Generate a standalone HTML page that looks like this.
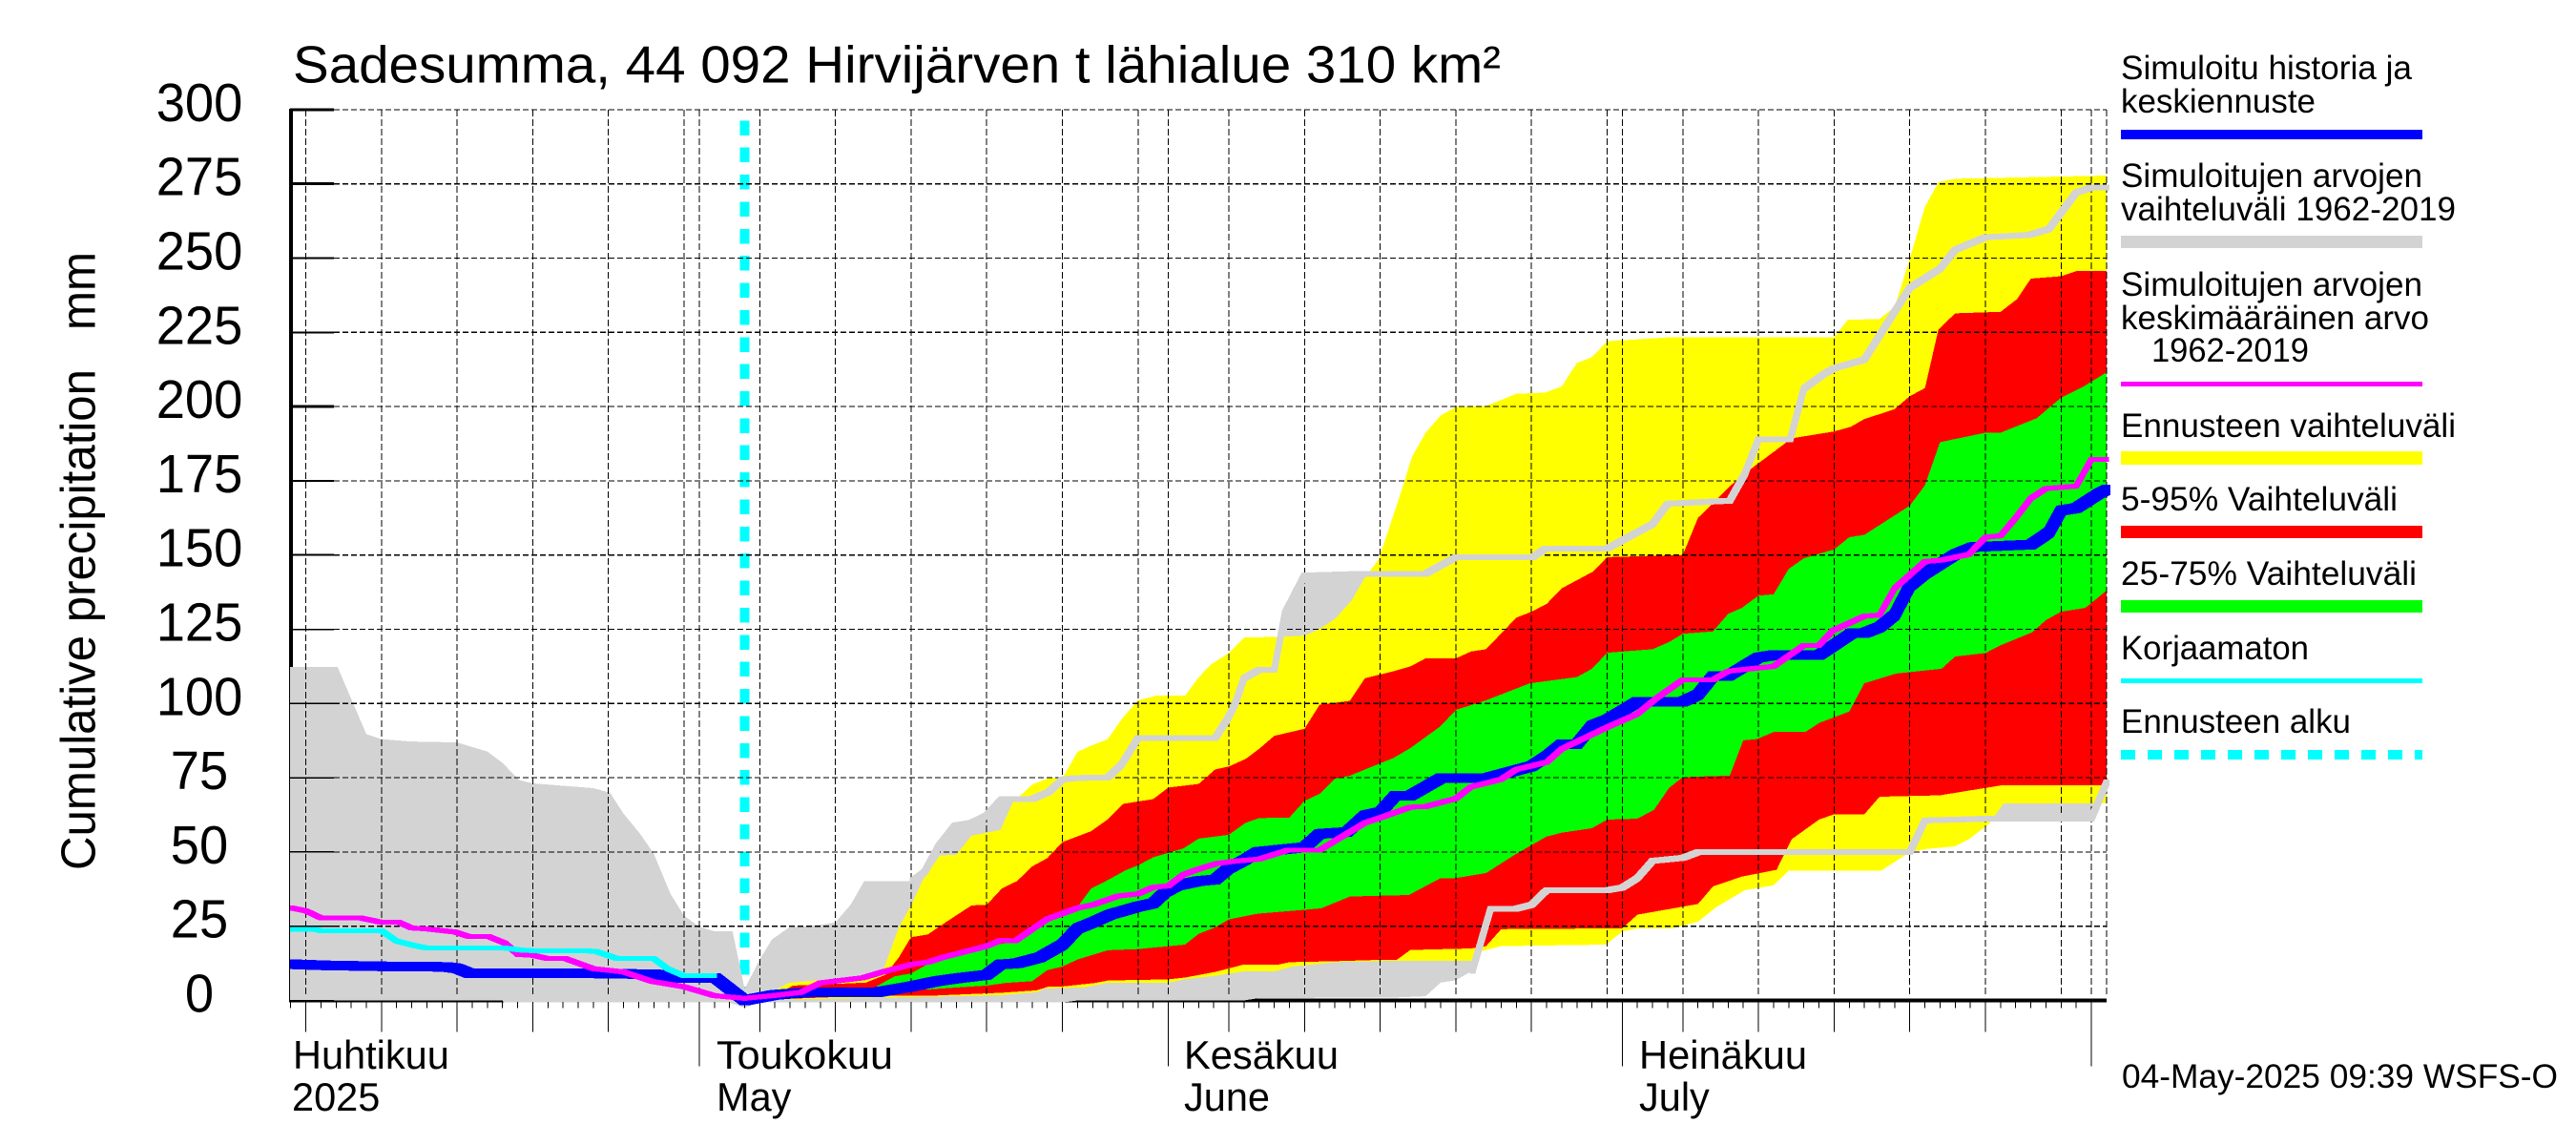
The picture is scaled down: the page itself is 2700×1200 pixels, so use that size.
<!DOCTYPE html>
<html lang="fi">
<head>
<meta charset="utf-8">
<title>Sadesumma, 44 092 Hirvijärven t lähialue 310 km²</title>
<style>
html,body{margin:0;padding:0;background:#fff;}
svg{display:block;font-family:"Liberation Sans",sans-serif;fill:#000;}
</style>
</head>
<body>
<svg id="chart" xmlns="http://www.w3.org/2000/svg" width="2700" height="1200" viewBox="0 0 2700 1200">
  <defs>
    <clipPath id="plot-clip"><rect x="304" y="100" width="1908" height="970"/></clipPath>
  </defs>
  <rect x="0" y="0" width="2700" height="1200" fill="#ffffff"/>
  <g id="plot" shape-rendering="crispEdges"></g>

  <text x="307" y="86.5" font-size="55" textLength="1266" lengthAdjust="spacingAndGlyphs">Sadesumma, 44 092 Hirvijärven t lähialue 310 km²</text>
  <text transform="translate(99.5,912) rotate(-90)" font-size="51" textLength="648" lengthAdjust="spacingAndGlyphs" style="white-space:pre">Cumulative precipitation   mm</text>
  <g id="ylabels"></g>

  <g font-size="41.5">
    <text x="307" y="1120">Huhtikuu</text>
    <text x="306" y="1164">2025</text>
    <text x="751" y="1120" textLength="185" lengthAdjust="spacingAndGlyphs">Toukokuu</text>
    <text x="751" y="1164">May</text>
    <text x="1241" y="1120" textLength="162" lengthAdjust="spacingAndGlyphs">Kesäkuu</text>
    <text x="1241" y="1164">June</text>
    <text x="1718" y="1120" textLength="176" lengthAdjust="spacingAndGlyphs">Heinäkuu</text>
    <text x="1718" y="1164">July</text>
  </g>

  <g font-size="35">
    <g>
      <text x="2223" y="83" textLength="305" lengthAdjust="spacingAndGlyphs">Simuloitu historia ja</text>
      <text x="2223" y="118" textLength="204" lengthAdjust="spacingAndGlyphs">keskiennuste</text>
      <rect x="2223" y="136" width="316" height="10" fill="#0000ff" shape-rendering="crispEdges"/>
    </g>
    <g>
      <text x="2223" y="196" textLength="316" lengthAdjust="spacingAndGlyphs">Simuloitujen arvojen</text>
      <text x="2223" y="231" textLength="351" lengthAdjust="spacingAndGlyphs">vaihteluväli 1962-2019</text>
      <rect x="2223" y="247" width="316" height="13" fill="#d3d3d3" shape-rendering="crispEdges"/>
    </g>
    <g>
      <text x="2223" y="310" textLength="316" lengthAdjust="spacingAndGlyphs">Simuloitujen arvojen</text>
      <text x="2223" y="345" textLength="323" lengthAdjust="spacingAndGlyphs">keskimääräinen arvo</text>
      <text x="2255" y="379" textLength="165" lengthAdjust="spacingAndGlyphs">1962-2019</text>
      <rect x="2223" y="400" width="316" height="5" fill="#ff00ff" shape-rendering="crispEdges"/>
    </g>
    <g>
      <text x="2223" y="458" textLength="351" lengthAdjust="spacingAndGlyphs">Ennusteen vaihteluväli</text>
      <rect x="2223" y="473" width="316" height="14" fill="#ffff00" shape-rendering="crispEdges"/>
    </g>
    <g>
      <text x="2223" y="535" textLength="290" lengthAdjust="spacingAndGlyphs">5-95% Vaihteluväli</text>
      <rect x="2223" y="551" width="316" height="13" fill="#ff0000" shape-rendering="crispEdges"/>
    </g>
    <g>
      <text x="2223" y="613" textLength="310" lengthAdjust="spacingAndGlyphs">25-75% Vaihteluväli</text>
      <rect x="2223" y="629" width="316" height="13" fill="#00ff00" shape-rendering="crispEdges"/>
    </g>
    <g>
      <text x="2223" y="691" textLength="197" lengthAdjust="spacingAndGlyphs">Korjaamaton</text>
      <rect x="2223" y="711" width="316" height="5" fill="#00ffff" shape-rendering="crispEdges"/>
    </g>
    <g>
      <text x="2223" y="768" textLength="241" lengthAdjust="spacingAndGlyphs">Ennusteen alku</text>
      <line x1="2223" y1="791" x2="2539" y2="791" stroke="#00ffff" stroke-width="10" stroke-dasharray="15 13" shape-rendering="crispEdges"/>
    </g>
  </g>

  <text x="2224" y="1140" font-size="35" textLength="457" lengthAdjust="spacingAndGlyphs">04-May-2025 09:39 WSFS-O</text>
</svg>

<script>
// Axis values: days are counted from 1 May 2025, values are millimetres.
const yTicks = [0,25,50,75,100,125,150,175,200,225,250,275,300];
const gridDays = [-26,-21,-16,-11,-6,-1,4,9,14,19,24,29,35,40,45,50,55,60,65,70,75,80,85,90];
const shortGridDays = [-1,29,60,90];
const monthStartDays = [0,31,61,92];
const firstDay = -27;
const lastDay = 93;
const forecastStartDay = 3;

const grayUpperDays = [-27.05,-23.9,-22,-21,-19.1,-16,-14,-13,-11.9,-11,-7,-5.9,-5,-3.9,-3,-1.9,-1,0,1,2.2,3,4,4.8,5.9,7.9,9,10,10.9,14.1,14.9,15.8,16.9,18,19,20,22,23.1,24,24.9,27,27.9,29,34.1,34.9,35.4,36,37,38,38.7,40,44,48,50,55.1,55.9,60,63,64,68.1,69.1,70,72.1,73,74.3,75,77,80,82,83,85,87.9,89.2,91,92,93];
const grayUpperValues = [112.3,112.3,89.7,88,87.2,86.9,83.8,80,74.2,73.1,71.5,70,62.9,56.1,49.4,35.9,28.5,24.8,23.3,23.3,3.9,13.8,20.5,24.5,25.4,26.3,32.2,40.2,40.2,43.3,51.8,58.9,59.8,62.3,67.8,67.8,70.2,74.4,74.9,75.1,79.4,88.4,88.4,94.7,99.6,108.5,111.3,111.3,130.3,143.1,143.7,143.7,149.3,149.3,152.2,152.2,160.4,167.3,168.3,177.3,189,189,206,210.9,212.9,215.8,240,246.4,252.8,257,257.8,259.8,272.1,273.7,273.7];
const grayLowerDays = [-27.05,-13,-12.9,2,3,4,24,25,36,37,46,48,49,50,51.1,52.3,54,55,56,60,61,62,63,65,66,80,81,85.2,92,93];
const grayLowerValues = [0,0,-0.7,-0.7,-2.5,-0.7,-0.7,0,0,0.8,1,1.4,6,6.8,10,30.9,30.9,32.2,37.1,37.1,38,41.2,47,48,49.9,49.9,60.6,61.2,61.2,73.4];

const yellowUpperDays = [3,5.1,5.9,7.4,10.8,12.2,13.2,14,14.8,15.9,17,18,19.9,20.7,22,23.1,24,25,25.9,27,28,29,30.2,32.1,33,33.8,35,36,38.6,40,40.9,42,43.1,44,44.9,46.3,47.1,48,49,50,52,54,55.9,57,58,59,60,64.3,75,75.9,78,79,79.9,81,81.9,83,93];
const yellowUpperValues = [0,3.7,5.9,6.6,8.2,10.8,24.7,32,40.8,48.8,49.1,55.5,57.4,66.5,72.7,74.9,74.9,83.7,85.8,88,95.3,101.1,102.6,102.6,108.8,113.1,117,122.2,122.5,122.9,124.8,128.4,134.6,142.5,148.5,169.9,183,191.2,197,199.8,200.2,204.3,204.7,206.8,214.7,216.6,222,223.4,223.4,229.2,229.5,233.5,248,267.3,275.6,276.7,277.8];
const yellowLowerDays = [3,15.4,20,22.3,22.8,25.4,27,31,32,34.1,36,38,39.2,42,46,51,51.7,53,59.9,61,62,64.3,66,67.2,69.1,71,72,78.1,80,81.1,83,83.9,85.2,86.2,92.3,93];
const yellowLowerValues = [0,1.3,1.8,2.8,4,4.4,5.9,5.9,7.1,8.3,9.8,9.8,11.4,12.9,13.4,13.4,16.6,18.3,18.8,23.2,24.3,24.3,26.5,31.4,37.1,38.8,43.7,43.7,49.9,51,51.9,54.3,59.3,66.3,66.3,66.5];

const redUpperDays = [3,5.5,6.2,7.4,11,12.3,13.2,14,15.1,16.4,18,19,20,21,22,23,24,25.9,27,28,30,31,33,34.1,35,36.1,37,38,40,41,43,44,45.9,47,48,50,51,52,54,55,56,57,59.1,60,65,66,67,68.1,69.7,71,72.2,75,76.1,77,79,80,81,81.9,83,86,87.1,88,90,91,93];
const redUpperValues = [0,3,5,5.2,6,8.6,14.6,21.3,22.2,26.7,32,32.2,37.7,40.2,45.1,47.9,53.3,57,61,66.2,67.8,71.7,72.9,77.8,78.8,81.3,84.7,89.1,91.5,99.6,100.9,108.5,110.9,112.5,115.2,115.2,117.5,118.3,128.9,130.9,133.5,138.8,144.5,149.3,150,162.5,167.5,173.2,179.8,184.7,189.3,191.6,193.2,195.8,199.1,203.5,206.2,226,231.4,231.9,236.2,243.1,243.9,245.6,245.6];
const redLowerDays = [3,12,15.4,20,22.3,23.1,24,26.2,27,31,32.1,34.1,35.9,38.2,39,42,45.1,46.1,47,51,52,53,61,62,66,67,68.9,71.2,72.2,74,75,77,78,82,86,93];
const redLowerValues = [0,1.7,1.6,2.6,3.4,4.7,4.7,5.9,6.7,7.1,7.7,9.6,12,12,12.9,13.2,13.7,13.7,17,17.5,18.3,24,24.3,28.9,32.5,38.4,41.7,44,54.3,60.9,62.7,62.7,68.6,69.1,72.4,72.4];

const greenUpperDays = [11.7,12.9,14,15.1,16.1,18,19,20.3,21.4,22.8,25.1,25.9,27.1,28.2,29,30,32,33,35,36.1,37,39,40,41,42,43,45.9,47,49,50,52,54.9,58,59,60,63,64.1,65,67,68,68.9,70,71,72,73,75,76,77,80,81,82,85,86,88.4,90,91.5,93];
const greenUpperValues = [4.7,8.1,9.1,12.2,14,16.9,18.1,19.4,21.2,27.3,32.2,37.7,40.8,43.9,45.5,48.2,51.2,54.5,55.8,59.8,61.4,61.6,67.2,69.6,74.6,75.7,81.7,85,92.4,97.8,101.1,106.8,108.9,111.7,117.1,118.3,120.7,123.5,124.3,130.2,132.2,136.3,136.8,145.3,148.9,151.9,156,156.8,166.6,173.5,188,191.2,191.2,196.1,203,206.8,211.5];
const greenLowerDays = [11.7,12.4,19,20.3,22,23,24,25,27,29,32.1,33,34.1,35,36.9,41.1,43,46.9,49,50,52,54,56,57,59,60,62,63.1,64.1,65,68.1,69,69.9,71,73.1,74,76,77,79.1,82.1,83,85,86,88.1,89,90,91.6,93];
const greenLowerValues = [2,2.8,5,5.9,6.5,10.2,11.4,13.8,16.9,17.3,18.8,22.4,24.6,27.3,29.2,31,35,35.5,41.2,41.2,42.9,49.4,55.2,56.5,58,60.9,61.2,64.2,71.6,75.2,75.7,87.6,88,90.4,90.4,93.4,97.3,106.8,110.1,111.7,115.8,117,119.6,124,128.1,130.9,132.2,138];

const blueDays = [-27.05,-24.6,-20,-16.8,-16,-15.2,-10.3,-6.9,-2.9,-2.2,-1.1,1.1,3,5,7.1,8,11.7,14,15.8,17.3,19,19.9,21,22.5,24,25,26,27.2,29,30,30.8,31.6,33,34.1,35,36,36.9,40,41,42.8,44,45,46,47,49,52,55,56,57,58,59,60,62,65,66,67,68,70,71,74,76.2,77,78,79,80,81,83,84.2,88,89.2,90,91,92.5,93];
const blueValues = [12.2,11.8,11.4,11.3,10.8,9.2,9.2,9.1,8.8,8.3,7.5,7.5,0,1.9,2.7,2.7,2.7,4.7,6.6,7.6,8.6,12.1,12.5,14.5,18.8,24.2,26.3,29,31.6,32.7,36.5,38.7,40.2,40.7,44.5,47.2,50,51.6,56.1,56.7,62.3,63.4,69,69,74.8,74.8,78.9,82.2,86.3,86.3,92.5,94.5,100.6,100.6,103,109.3,109.3,115.5,116.3,116.3,123.7,123.7,125.7,129.8,139.6,143.7,150.2,152.7,153.5,157.6,165,165.8,170.7,172];

const magentaDays = [-27,-26,-25,-22.4,-21.1,-19.9,-19,-18,-16.1,-15.2,-13.9,-12.8,-12,-11,-10.1,-8.9,-7,-5,-3.1,-1,1,3,5,6.7,8,10.8,12.2,14.1,15.1,16.1,19,19.9,20.9,23,25,26,27.7,29,30,31,32,33,34.2,35.4,37,38.9,41,42,44,45,47,48,50,51,53,54,56,57,60,62,63.3,65,67,68,71,73,74,74.9,77,78,79,81,82.1,83.9,85,86,87,88,89,91,92,93];
const magentaValues = [31.2,30.2,27.8,27.8,26.4,26.4,24.4,24.1,23,21.5,21.5,19.2,15.5,15.2,14.2,14.2,10.7,9.6,6.4,4.6,1.6,0.7,1.7,2.7,5.9,7.6,9.7,12.2,12.9,14.5,18.3,20.2,20.1,27.4,31.1,32.2,35.2,35.9,38.1,38.6,42.4,44.2,46.1,46.9,47.6,50.6,50.6,53.7,59.8,61.5,65.1,65.3,68,71.9,74.5,77.8,80.2,84.7,92,96.5,101.9,108,108,110.9,112.5,119.6,119.6,124.5,129.4,129.8,138.8,147.8,148.3,150.2,156,156.5,162.5,169.1,172.4,173.2,182.2,182.2];

const cyanDays = [-27,-25.4,-25,-21,-20,-19,-18,-12.8,-11.5,-6.9,-5.4,-3,-2.1,-1,1];
const cyanValues = [24,23.9,23.5,23.5,20,18.7,17.6,17.6,16.8,16.6,14.1,14.1,10.7,8.3,8.3];

const NS = 'http://www.w3.org/2000/svg';
const plot = document.getElementById('plot');
const ylabels = document.getElementById('ylabels');

function xScale(day) { return 732.9 + 15.86 * day; }
function yScale(value) { return 1048.5 - 3.112 * value; }

function mk(tag, attrs, parent) {
  const el = document.createElementNS(NS, tag);
  for (const k in attrs) el.setAttribute(k, attrs[k]);
  parent.appendChild(el);
  return el;
}
function pts(days, values) {
  return days.map(function (d, i) { return xScale(d).toFixed(1) + ',' + yScale(values[i]).toFixed(1); });
}
function band(upperDays, upperValues, lowerDays, lowerValues, color) {
  const upper = pts(upperDays, upperValues);
  const lower = pts(lowerDays, lowerValues).reverse();
  return mk('polygon', { points: upper.concat(lower).join(' '), fill: color }, plot);
}
// Lines in the reference are drawn with a square pen, so each segment is the
// hexagon swept by a square of the given size between two data points.
function trace(days, values, color, size) {
  const h = size / 2;
  const parts = [];
  for (let i = 0; i + 1 < days.length; i++) {
    const x1 = xScale(days[i]), y1 = yScale(values[i]);
    const x2 = xScale(days[i + 1]), y2 = yScale(values[i + 1]);
    let c;
    if (y2 <= y1) {
      c = [[x1 - h, y1 - h], [x2 - h, y2 - h], [x2 + h, y2 - h], [x2 + h, y2 + h], [x1 + h, y1 + h], [x1 - h, y1 + h]];
    } else {
      c = [[x1 - h, y1 - h], [x1 + h, y1 - h], [x2 + h, y2 - h], [x2 + h, y2 + h], [x2 - h, y2 + h], [x1 - h, y1 + h]];
    }
    parts.push('M' + c.map(function (p) { return p[0].toFixed(1) + ' ' + p[1].toFixed(1); }).join('L') + 'Z');
  }
  return mk('path', { d: parts.join(''), fill: color, 'clip-path': 'url(#plot-clip)' }, plot);
}
function filterPairs(days, values, from) {
  const d = [], v = [];
  days.forEach(function (x, i) { if (x >= from) { d.push(x); v.push(values[i]); } });
  return [d, v];
}

// Axis lines beneath the fills
const xAxisLine = mk('line', { x1: 304, y1: yScale(0), x2: xScale(lastDay), y2: yScale(0), stroke: '#000', 'stroke-width': 4 }, plot);


const yAxisLine = mk('line', { x1: 305, y1: yScale(300) - 1, x2: 305, y2: yScale(0) + 2, stroke: '#000', 'stroke-width': 4 }, plot);



// Forecast start marker
const startLine = mk('line', {
  x1: xScale(forecastStartDay), y1: 126.3, x2: xScale(forecastStartDay), y2: yScale(0),
  stroke: '#00ffff', 'stroke-width': 10, 'stroke-dasharray': '15.5 12.87'
}, plot);



// Bands
const grayBand = band(grayUpperDays, grayUpperValues, grayLowerDays, grayLowerValues, '#d3d3d3');


const yellowBand = band(yellowUpperDays, yellowUpperValues, yellowLowerDays, yellowLowerValues, '#ffff00');


const redBand = band(redUpperDays, redUpperValues, redLowerDays, redLowerValues, '#ff0000');


const greenBand = band(greenUpperDays, greenUpperValues, greenLowerDays, greenLowerValues, '#00ff00');



// Horizontal grid and y ticks
yTicks.forEach(function (v) {
  if (v > 0) {
    const g = mk('line', { x1: 350, y1: yScale(v), x2: xScale(lastDay), y2: yScale(v), stroke: '#000', 'stroke-width': 1.2, 'stroke-dasharray': '6 3' }, plot);
    
    
  }
  const t = mk('line', { x1: 304, y1: yScale(v), x2: 350, y2: yScale(v), stroke: '#000', 'stroke-width': v === 300 || v === 275 || v === 200 ? 3 : (v >= 150 ? 2 : 1.5) }, plot);
  
  
  const s = String(v);
  const label = mk('text', { x: 209, y: yScale(v) + 12, 'font-size': 57, 'text-anchor': 'middle', textLength: s.length * 30.2, lengthAdjust: 'spacingAndGlyphs' }, ylabels);
  label.textContent = s;
  
  
});

// Vertical grid
gridDays.concat(monthStartDays, [lastDay]).forEach(function (d) {
  const g = mk('line', { x1: xScale(d), y1: yScale(300), x2: xScale(d), y2: 1043, stroke: '#000', 'stroke-width': 1, 'stroke-dasharray': '7 3' }, plot);
  
  
});

// X ticks
for (let d = firstDay; d <= lastDay - 1; d++) {
  let bottom = 1056.7;
  if (gridDays.indexOf(d) >= 0 && shortGridDays.indexOf(d) < 0) bottom = 1081.7;
  if (monthStartDays.indexOf(d) >= 0) bottom = 1117.7;
  const t = mk('line', { x1: xScale(d), y1: 1050, x2: xScale(d), y2: bottom, stroke: '#000', 'stroke-width': 1 }, plot);
  
  
}

// Series lines
const grayTop = filterPairs(grayUpperDays, grayUpperValues, 14.1);
const grayTopLine = trace(grayTop[0], grayTop[1], '#d3d3d3', 6);


const grayBottom = filterPairs(grayLowerDays, grayLowerValues, 51.1);
const grayBottomLine = trace(grayBottom[0], grayBottom[1], '#d3d3d3', 6);


const blueLine = trace(blueDays, blueValues, '#0000ff', 10);


const magentaLine = trace(magentaDays, magentaValues, '#ff00ff', 5);


const cyanLine = trace(cyanDays, cyanValues, '#00ffff', 5);


</script>
</body>
</html>
